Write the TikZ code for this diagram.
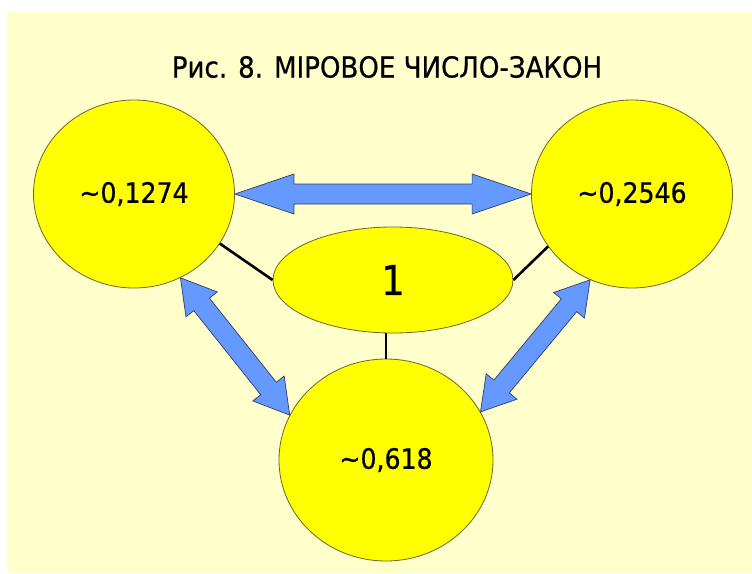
\documentclass[tikz,border=0pt]{standalone}
\usepackage{fontspec}
\setmainfont{DejaVu Sans Condensed}[FakeBold=0.6]
\newfontfamily\labelfont{DejaVu Sans Condensed}[FakeBold=0.6]
\usetikzlibrary{shapes.geometric,calc}
\definecolor{bgyellow}{RGB}{255,255,204}
\definecolor{ballfill}{RGB}{255,255,0}
\definecolor{balledge}{RGB}{110,100,50}
\definecolor{arrowfill}{RGB}{102,153,255}
\definecolor{arrowedge}{RGB}{50,60,100}
\tikzset{
  ball/.style={ellipse, draw=balledge, fill=ballfill, line width=0.8pt, inner sep=0pt,
    font=\labelfont\fontsize{28}{30}\selectfont},
  linkline/.style={draw=black, line width=2.6pt},
  blockarrowstyle/.style={draw=arrowedge, fill=arrowfill, line width=0.7pt, line join=miter},
}
% #1 tip A, #2 tip B, #3 head length, #4 head half width, #5 shaft half width
\newcommand{\myblockarrow}[5]{%
  \path[blockarrowstyle] (#1)
    -- ($(#1)!#3!(#2)!#4!90:(#2)$)
    -- ($(#1)!#3!(#2)!#5!90:(#2)$)
    -- ($(#2)!#3!(#1)!#5!-90:(#1)$)
    -- ($(#2)!#3!(#1)!#4!-90:(#1)$)
    -- (#2)
    -- ($(#2)!#3!(#1)!#4!90:(#1)$)
    -- ($(#2)!#3!(#1)!#5!90:(#1)$)
    -- ($(#1)!#3!(#2)!#5!-90:(#2)$)
    -- ($(#1)!#3!(#2)!#4!-90:(#2)$)
    -- cycle;}
\begin{document}
\begin{tikzpicture}[x=1pt,y=-1pt]
\useasboundingbox (0,0) rectangle (752,573);
\fill[bgyellow] (7,12) rectangle (752,573);
\node[font=\labelfont\fontsize{29}{32}\selectfont] (title) at (387,67) {Рис. 8. МІРОВОЕ ЧИСЛО-ЗАКОН};
\node[ball, minimum width=201pt, minimum height=188pt] (L) at (134,194) {\textasciitilde 0,1274};
\node[ball, minimum width=201pt, minimum height=188pt] (R) at (632,194) {\textasciitilde 0,2546};
\node[ball, minimum width=240pt, minimum height=106pt, font=\labelfont\fontsize{41}{44}\selectfont] (C) at (393,280) {1};
\node[ball, minimum width=214pt, minimum height=202pt] (B) at (386,460) {\textasciitilde 0,618};
\draw[linkline] (L.-30) -- (C.west);
\draw[linkline] (R.212) -- (C.east);
\draw[linkline] (B.north) -- (B.north |- C.south);
\myblockarrow{L.east}{R.west}{59pt}{20pt}{10pt}
\myblockarrow{L.-61}{B.155}{34pt}{20pt}{10pt}
\myblockarrow{R.244}{B.27}{33pt}{20pt}{10pt}
\end{tikzpicture}
\end{document}
